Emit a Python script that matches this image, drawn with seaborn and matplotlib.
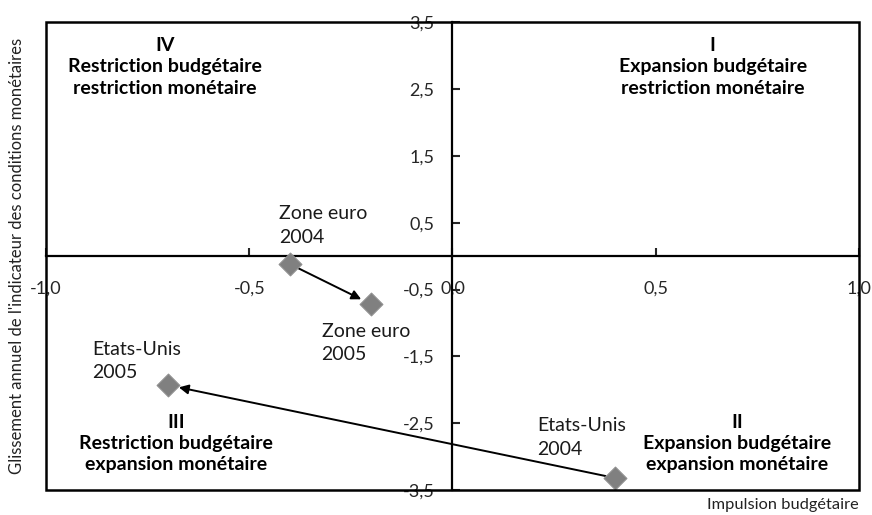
import numpy as np
import pandas as pd
import matplotlib
import matplotlib.pyplot as plt
import seaborn as sns
from matplotlib.patches import Rectangle

matplotlib.use('Agg')

# data
zones = ["Zone euro", "Zone euro", "Etats-Unis", "Etats-Unis"]
years = ["2004", "2005", "2004", "2005"]
impulsion = [-0.40, -0.20, 0.40, -0.70]
glissement = [-0.12, -0.72, -3.32, -1.93]

x_ticks = [-1.0, -0.5, 0.0, 0.5, 1.0]
x_tick_labels = ["-1,0", "-0,5", "0,0", "0,5", "1,0"]
y_ticks = [-3.5, -2.5, -1.5, -0.5, 0.5, 1.5, 2.5, 3.5]
y_tick_labels = ["-3,5", "-2,5", "-1,5", "-0,5", "0,5", "1,5", "2,5", "3,5"]

quadrant_texts = [
    "IV\nRestriction budgétaire\nrestriction monétaire",
    "I\nExpansion budgétaire\nrestriction monétaire",
    "III\nRestriction budgétaire\nexpansion monétaire",
    "II\nExpansion budgétaire\nexpansion monétaire",
]

# layout only: where the text blocks sit
quadrant_pos = [(-0.708, 2.83), (0.64, 2.83), (-0.68, -2.80), (0.70, -2.80)]
label_pos = [(-0.426, 0.46), (-0.322, -1.30), (0.209, -2.71), (-0.886, -1.57)]

df = pd.DataFrame({"zone": zones, "annee": years,
                   "x": impulsion, "y": glissement})

sns.set_style("white")
plt.rcParams['font.family'] = ['Lato', 'DejaVu Sans']

fig = plt.figure(figsize=(8.72, 5.15), dpi=100)
ax = fig.add_axes([0.0528, 0.0485, 0.9322, 0.9085])

# arrows 2004 -> 2005
for zone in ["Zone euro", "Etats-Unis"]:
    d = df[df["zone"] == zone].set_index("annee")
    ax.annotate("", xy=(d.loc["2005", "x"], d.loc["2005", "y"]),
                xytext=(d.loc["2004", "x"], d.loc["2004", "y"]),
                arrowprops=dict(arrowstyle="-|>", color="black", lw=1.4,
                                shrinkA=7, shrinkB=8, mutation_scale=14),
                zorder=3)

sns.scatterplot(data=df, x="x", y="y", marker="D", s=135, color="#808080",
                edgecolor="#909090", linewidth=0.8, ax=ax, zorder=4, legend=False)

# point labels, one text per line
for (lx, ly), z, a in zip(label_pos, zones, years):
    ax.annotate(z, xy=(lx, ly), xytext=(0, 8.5), textcoords="offset points",
                ha="left", va="center", fontsize=14, color="#1a1a1a")
    ax.annotate(a, xy=(lx, ly), xytext=(0, -8.5), textcoords="offset points",
                ha="left", va="center", fontsize=14, color="#1a1a1a")

for (qx, qy), t in zip(quadrant_pos, quadrant_texts):
    ax.text(qx, qy, t, ha="center", va="center", fontsize=14,
            fontweight="bold", linespacing=1.3, color="black")

ax.set_xlim(-1.0, 1.0)
ax.set_ylim(-3.5, 3.5)

# centred axes
ax.spines["left"].set_position(("data", 0))
ax.spines["bottom"].set_position(("data", 0))
ax.spines["right"].set_visible(False)
ax.spines["top"].set_visible(False)
for s in ["left", "bottom"]:
    ax.spines[s].set_linewidth(1.6)
    ax.spines[s].set_color("black")

# outer frame
ax.add_patch(Rectangle((0, 0), 1, 1, transform=ax.transAxes, fill=False,
                       edgecolor="black", linewidth=1.8, clip_on=False, zorder=5))

ax.set_xticks(x_ticks)
ax.set_xticklabels(x_tick_labels)
ax.set_yticks(y_ticks)
ax.set_yticklabels(y_tick_labels)
ax.tick_params(axis="x", direction="in", length=6, width=1.5, pad=18,
               labelsize=13, bottom=True)
ax.tick_params(axis="y", direction="in", length=6, width=1.5, pad=13,
               labelsize=13, left=True)
ax.set_xlabel("")
ax.set_ylabel("")

ax.text(1.0, -0.032, "Impulsion budgétaire", transform=ax.transAxes,
        ha="right", va="center", fontsize=11.8, color="#222222")
ax.text(-0.036, 0.5, "Glissement annuel de l'indicateur des conditions monétaires",
        transform=ax.transAxes, rotation=90, ha="center", va="center",
        fontsize=12, color="#222222")

fig.savefig("out.png", dpi=100)
